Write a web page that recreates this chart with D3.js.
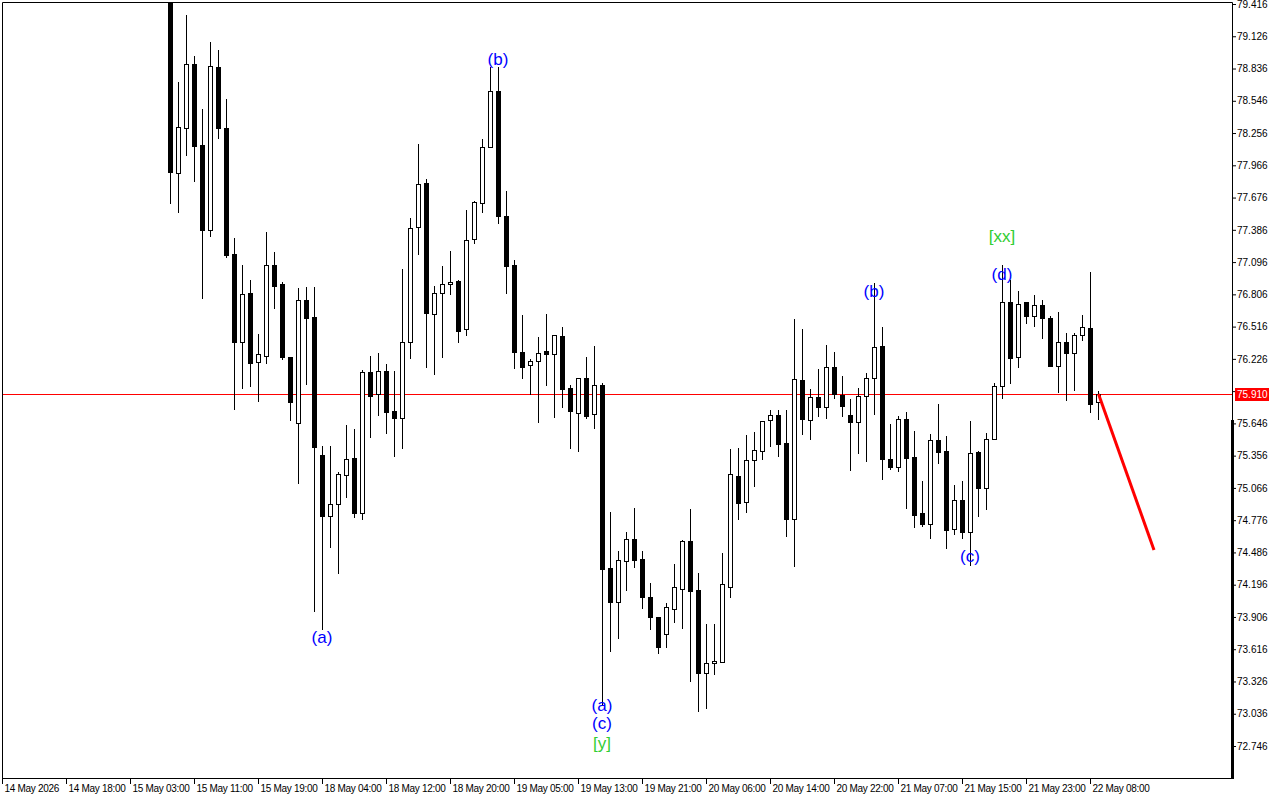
<!DOCTYPE html>
<html>
<head>
<meta charset="utf-8">
<script src="https://cdn.jsdelivr.net/npm/d3@7"></script>
<style>
html,body{margin:0;padding:0;background:#fff;}
svg{display:block;}
</style>
</head>
<body>
<svg id="chart" width="1280" height="800"></svg>
<script>
// ---------------- DATA ----------------
const firstIndex = 21; // bar index of the first visible candle
const opens = [79.550,77.894,78.299,78.877,78.149,77.385,78.850,78.301,77.169,76.381,76.816,76.201,76.255,77.067,76.899,76.243,75.652,76.755,76.603,75.362,74.817,74.919,75.180,75.332,74.838,76.106,75.908,76.115,75.758,75.695,76.375,77.409,77.804,76.627,76.816,76.897,76.926,76.492,77.301,77.630,78.133,78.637,77.510,77.070,76.285,76.168,76.204,76.297,76.267,76.432,75.962,75.742,76.052,75.728,75.991,74.344,74.038,74.412,74.607,74.427,74.086,73.906,73.750,73.981,74.160,74.586,74.149,73.405,73.490,73.499,74.178,75.173,74.937,75.314,75.395,75.674,75.719,75.467,74.784,76.034,75.674,75.881,75.791,76.150,75.901,75.719,75.656,75.892,76.052,76.339,75.326,75.257,75.683,75.341,74.838,74.745,75.494,75.395,74.694,74.955,74.667,75.389,75.068,75.503,75.980,76.735,76.240,76.737,76.609,76.708,76.594,76.159,76.375,76.276,76.438,76.501,75.836];
const highs = [79.620,78.718,79.317,78.949,78.472,79.075,79.003,78.562,77.313,77.070,76.935,76.450,77.369,77.184,76.917,76.243,76.863,76.872,76.872,75.443,75.443,75.209,75.632,75.596,76.126,76.252,76.276,76.180,76.117,77.034,77.490,78.155,77.840,76.881,77.061,77.196,76.935,77.564,77.645,78.203,78.852,78.852,77.735,77.115,76.621,76.225,76.420,76.630,76.438,76.510,75.991,76.052,76.240,76.342,76.012,74.847,74.499,74.667,74.888,74.499,74.214,73.906,74.029,74.382,74.598,74.877,74.304,73.843,73.843,74.484,75.416,75.428,75.542,75.569,75.665,75.767,75.767,75.767,76.585,76.495,75.955,76.135,76.351,76.288,76.072,75.866,75.964,76.097,76.908,76.513,75.641,75.715,75.749,75.578,75.131,75.551,75.821,75.533,75.092,75.131,75.668,75.398,75.562,76.012,77.070,76.935,76.836,76.737,76.798,76.755,76.612,76.650,76.456,76.456,76.621,77.004,75.937];
const lows = [77.625,77.549,78.059,77.825,76.776,77.333,78.214,77.145,75.773,75.967,75.982,75.850,76.192,76.681,76.228,75.677,75.113,76.000,73.963,73.795,74.538,74.299,74.987,74.808,74.784,75.527,75.724,75.557,75.356,75.425,76.231,77.166,76.156,76.088,76.240,76.807,76.381,76.441,77.270,77.549,78.133,77.450,76.821,76.141,76.057,75.910,75.661,75.991,75.706,75.796,75.428,75.398,75.697,75.608,73.115,73.603,73.720,74.149,74.358,73.990,73.801,73.585,73.639,73.864,73.810,73.331,73.064,73.091,73.391,73.499,74.088,74.784,74.852,75.086,75.329,75.446,75.356,74.637,74.367,75.554,75.509,75.715,75.692,75.877,75.715,75.230,75.383,75.311,75.731,75.149,75.236,75.218,74.888,74.718,74.727,74.619,75.293,74.529,74.649,74.613,74.373,74.817,74.874,75.503,75.872,76.012,76.156,76.546,76.524,76.411,76.165,75.931,75.857,75.946,76.396,75.751,75.683];
const closes = [77.909,78.308,78.877,78.142,77.385,78.859,78.304,77.160,76.381,76.807,76.192,76.267,77.067,76.884,76.243,75.839,76.755,76.594,75.437,74.814,74.919,75.189,75.323,74.843,76.106,75.895,76.115,75.751,75.692,76.375,77.400,77.795,76.636,76.816,76.897,76.915,76.479,77.292,77.634,78.133,78.637,77.513,77.064,76.291,76.156,76.207,76.276,76.273,76.438,75.958,75.760,76.052,75.715,75.989,74.340,74.038,74.418,74.604,74.418,74.088,73.909,73.639,73.993,74.173,74.586,74.142,73.405,73.490,73.508,74.200,75.189,74.933,75.317,75.404,75.665,75.719,75.464,74.784,76.043,75.683,75.886,75.791,76.150,75.908,75.800,75.656,75.890,76.052,76.330,75.329,75.257,75.683,75.338,74.823,74.745,75.494,75.392,74.691,74.955,74.673,75.377,75.068,75.503,75.982,76.735,76.231,76.717,76.609,76.708,76.591,76.165,76.375,76.276,76.438,76.510,75.823,75.910];

const yTickValues = [79.416,79.126,78.836,78.546,78.256,77.966,77.676,77.386,77.096,76.806,76.516,76.226,75.936,75.646,75.356,75.066,74.776,74.486,74.196,73.906,73.616,73.326,73.036,72.746];
const xTickLabels = ["14 May 2026","14 May 18:00","15 May 03:00","15 May 11:00","15 May 19:00","18 May 04:00","18 May 12:00","18 May 20:00","19 May 05:00","19 May 13:00","19 May 21:00","20 May 06:00","20 May 14:00","20 May 22:00","21 May 07:00","21 May 15:00","21 May 23:00","22 May 08:00"];
const xTickStep = 8; // one label every 8 bars

const currentPrice = 75.910;
const forecastFrom = [137, 75.910];
const forecastTo = [144, 74.508];

const waveTexts   = ["(a)","(b)","(a)","(c)","[y]","(b)","[xx]","(d)","(c)"];
const waveIndex   = [40, 62, 75, 75, 75, 109, 125, 125, 121];
const wavePrice   = [73.726, 78.922, 73.115, 72.953, 72.773, 76.836, 77.331, 76.989, 74.454];
const waveColor   = ["blue","blue","blue","blue","green","blue","green","blue","blue"];

// ---------------- CHART ----------------
(function(){
const svg = d3.select("#chart");
const pL = 2, pR = 1232, pT = 2, pB = 778;
const FONT = "'Liberation Sans', Arial, sans-serif";

const x = d3.scaleLinear().domain([0, 1]).range([2, 10]); // 8 px per bar
const y = d3.scaleLinear().domain([72.746, 79.416]).range([746, 4]);

svg.append("defs").append("clipPath").attr("id","plot")
  .append("rect").attr("x", pL).attr("y", pT).attr("width", pR-pL).attr("height", pB-pT);

const candles = opens.map((o,k)=>({i:firstIndex+k, o, h:highs[k], l:lows[k], c:closes[k]}));

const g = svg.append("g").attr("clip-path","url(#plot)");

// current price line
const py = Math.round(y(currentPrice));
g.append("line")
  .attr("x1", pL).attr("x2", pR)
  .attr("y1", py+0.5).attr("y2", py+0.5)
  .attr("stroke","#ff0000").attr("stroke-width",1);

// wicks
g.selectAll("line.wick").data(candles).join("line")
  .attr("class","wick")
  .attr("x1", d=>x(d.i)+0.5).attr("x2", d=>x(d.i)+0.5)
  .attr("y1", d=>Math.round(y(d.h))).attr("y2", d=>Math.round(y(d.l))+1)
  .attr("stroke","#000").attr("stroke-width",1);

// bodies
g.selectAll("rect.body").data(candles).join("rect")
  .attr("class","body")
  .attr("x", d=>x(d.i)-1.5)
  .attr("width", 4)
  .attr("y", d=>Math.round(y(Math.max(d.o,d.c)))+0.5)
  .attr("height", d=>Math.max(0, Math.round(y(Math.min(d.o,d.c))) - Math.round(y(Math.max(d.o,d.c)))))
  .attr("fill", d=> d.c >= d.o ? "#fff" : "#000")
  .attr("stroke","#000").attr("stroke-width",1);

// forecast arrow line
g.append("line")
  .attr("x1", x(forecastFrom[0])+0.5).attr("y1", y(forecastFrom[1]))
  .attr("x2", x(forecastTo[0])).attr("y2", y(forecastTo[1]))
  .attr("stroke","#ff0000").attr("stroke-width",3);

// wave labels
const colorMap = {blue:"#0000ff", green:"#32cd32"};
g.selectAll("text.wave").data(waveTexts).join("text")
  .attr("class","wave")
  .attr("x",(d,k)=>x(waveIndex[k]))
  .attr("y",(d,k)=>y(wavePrice[k]))
  .attr("dy","0.35em")
  .attr("text-anchor","middle")
  .attr("font-family",FONT)
  .attr("font-size","17px")
  .attr("fill",(d,k)=>colorMap[waveColor[k]])
  .text(d=>d);

// frame
svg.append("path")
  .attr("d", `M${pL+0.5},${pB+0.5}V${pT+0.5}H${pR+0.5}V${pB+0.5}H${pL+0.5}`)
  .attr("fill","none").attr("stroke","#000").attr("stroke-width",1);
svg.append("rect").attr("x",1231).attr("y",420).attr("width",3).attr("height",pB-420+1).attr("fill","#000");

// right axis (label hidden where the current-price tag sits, as in the reference)
const yAxis = d3.axisRight(y).tickValues(yTickValues).tickSize(4)
  .tickFormat(v => Math.abs(y(v) - y(currentPrice)) < 10 ? "" : d3.format(".3f")(v));
const ya = svg.append("g").attr("transform",`translate(${pR},0)`).call(yAxis);
ya.select(".domain").remove();
ya.selectAll("text").attr("x",5).attr("font-family",FONT).attr("font-size","10px").attr("fill","#000");
ya.selectAll("line").attr("stroke","#000");

// price tag
svg.append("rect").attr("x",1235).attr("y",py-6).attr("width",34).attr("height",13).attr("fill","#ff0000");
svg.append("text").attr("x",1237).attr("y",py+4)
  .attr("font-family",FONT).attr("font-size","10px").attr("fill","#fff")
  .text(d3.format(".3f")(currentPrice));

// bottom axis
const xTickIdx = xTickLabels.map((d,k)=>k*xTickStep);
const xAxis = d3.axisBottom(x).tickValues(xTickIdx).tickSize(6).tickFormat((d,k)=>xTickLabels[k]);
const xa = svg.append("g").attr("transform",`translate(0,${pB})`).call(xAxis);
xa.select(".domain").remove();
xa.selectAll("text").attr("text-anchor","start").attr("x",2).attr("y",7).attr("dy","0.71em")
  .attr("font-family",FONT).attr("font-size","10px").attr("letter-spacing","-0.3px").attr("fill","#000");
xa.selectAll("line").attr("stroke","#000");
})();
</script>
</body>
</html>
